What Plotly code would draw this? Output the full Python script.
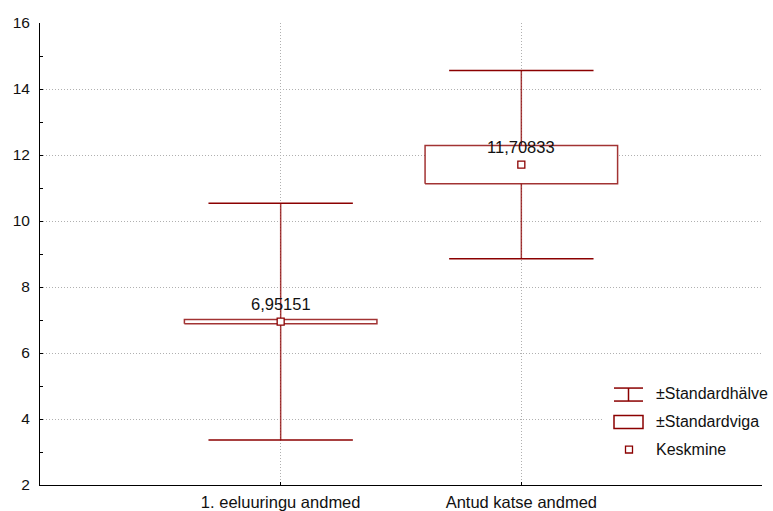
import plotly.graph_objects as go

categories = ["1. eeluuringu andmed", "Antud katse andmed"]
means = [6.95151, 11.70833]
std_err = [0.067, 0.583]
std_dev = [3.59, 2.85]
y_ticks = [2, 4, 6, 8, 10, 12, 14, 16]
legend_labels = ["±Standardhälve", "±Standardviga", "Keskmine"]

RED = "#8B0000"
FONT = "Liberation Sans, Arial, sans-serif"
TXT = "#111111"
CAP_HALF = 0.3
BOX_HALF = 0.4

W, H = 773, 511

fig = go.Figure()

for i, (m, se, sd) in enumerate(zip(means, std_err, std_dev)):
    fig.add_trace(go.Scatter(x=[i, i], y=[m - sd, m + sd], mode="lines",
                             line=dict(color=RED, width=1.5), opacity=0.75,
                             showlegend=False, hoverinfo="skip"))
    for v in (m - sd, m + sd):
        fig.add_trace(go.Scatter(x=[i - CAP_HALF, i + CAP_HALF], y=[v, v], mode="lines",
                                 line=dict(color=RED, width=1.5),
                                 showlegend=False, hoverinfo="skip"))
    fig.add_trace(go.Scatter(x=[i - BOX_HALF, i + BOX_HALF, i + BOX_HALF, i - BOX_HALF, i - BOX_HALF],
                             y=[m - se, m - se, m + se, m + se, m - se], mode="lines",
                             fill="toself", fillcolor="white",
                             line=dict(color="rgba(139,0,0,0.8)", width=1.5),
                             showlegend=False, hoverinfo="skip"))
    fig.add_trace(go.Scatter(x=[i], y=[m], mode="markers",
                             marker=dict(symbol="square", size=7, color="white",
                                         line=dict(color=RED, width=1.3)),
                             showlegend=False, hoverinfo="skip"))
    fig.add_annotation(x=i, y=m, text=f"{m:.5f}".replace(".", ","), showarrow=False,
                       yshift=18, font=dict(family=FONT, size=16.5, color=TXT))

# plot-area edges in pixels
L, R, T, B = 40, 762, 22.7, 485


def px(p):
    return (p - L) / (R - L)


def py(p):
    return (B - p) / (B - T)


fig.add_shape(type="rect", xref="paper", yref="paper", x0=px(603), x1=px(775),
              y0=py(464), y1=py(376), fillcolor="white", line=dict(width=0), layer="above")
for yy in (388, 401):
    fig.add_shape(type="line", xref="paper", yref="paper", x0=px(614), x1=px(643),
                  y0=py(yy), y1=py(yy), line=dict(color=RED, width=1.5), layer="above")
fig.add_shape(type="line", xref="paper", yref="paper", x0=px(628.5), x1=px(628.5),
              y0=py(401), y1=py(388), line=dict(color=RED, width=1.5), layer="above")
fig.add_shape(type="rect", xref="paper", yref="paper", x0=px(614), x1=px(643),
              y0=py(428.5), y1=py(415.5), line=dict(color=RED, width=1.5),
              fillcolor="white", layer="above")
fig.add_shape(type="rect", xref="paper", yref="paper", x0=px(625.5), x1=px(632.5),
              y0=py(453), y1=py(446), line=dict(color=RED, width=1.3),
              fillcolor="white", layer="above")
for lab, yy in zip(legend_labels, (393, 421, 449)):
    fig.add_annotation(xref="paper", yref="paper", x=px(654), y=py(yy), text=lab,
                       showarrow=False, xanchor="left", yanchor="middle",
                       font=dict(family=FONT, size=16, color=TXT))

fig.update_layout(
    width=W, height=H,
    margin=dict(l=L, r=W - R, t=T, b=H - B, pad=0, autoexpand=False),
    paper_bgcolor="white", plot_bgcolor="white",
    font=dict(family=FONT, size=16, color=TXT),
    showlegend=False,
)
GRID = dict(showgrid=True, gridcolor="#b0b0b0", griddash="1px,2px", gridwidth=1)
fig.update_xaxes(
    range=[-1, 2], tickvals=[-1, 0, 1, 2], ticktext=["", categories[0], categories[1], ""],
    tickfont=dict(size=16.5), automargin=False,
    showline=True, linecolor="black", linewidth=1,
    ticks="inside", ticklen=3, tickcolor="black", ticklabelstandoff=2,
    zeroline=False, fixedrange=True, **GRID,
)
fig.update_yaxes(
    range=[2, 16], tickvals=y_ticks, tickfont=dict(size=15.5), automargin=False,
    showline=True, linecolor="black", linewidth=1,
    ticks="inside", ticklen=3, tickcolor="black", ticklabelstandoff=6,
    minor=dict(ticks="inside", dtick=1, ticklen=3, tickcolor="black", showgrid=False),
    zeroline=False, fixedrange=True, **GRID,
)

fig.write_html(
    "out.html",
    config={"displayModeBar": False},
    post_script="document.body.style.margin='0';document.body.style.overflow='hidden';",
)
